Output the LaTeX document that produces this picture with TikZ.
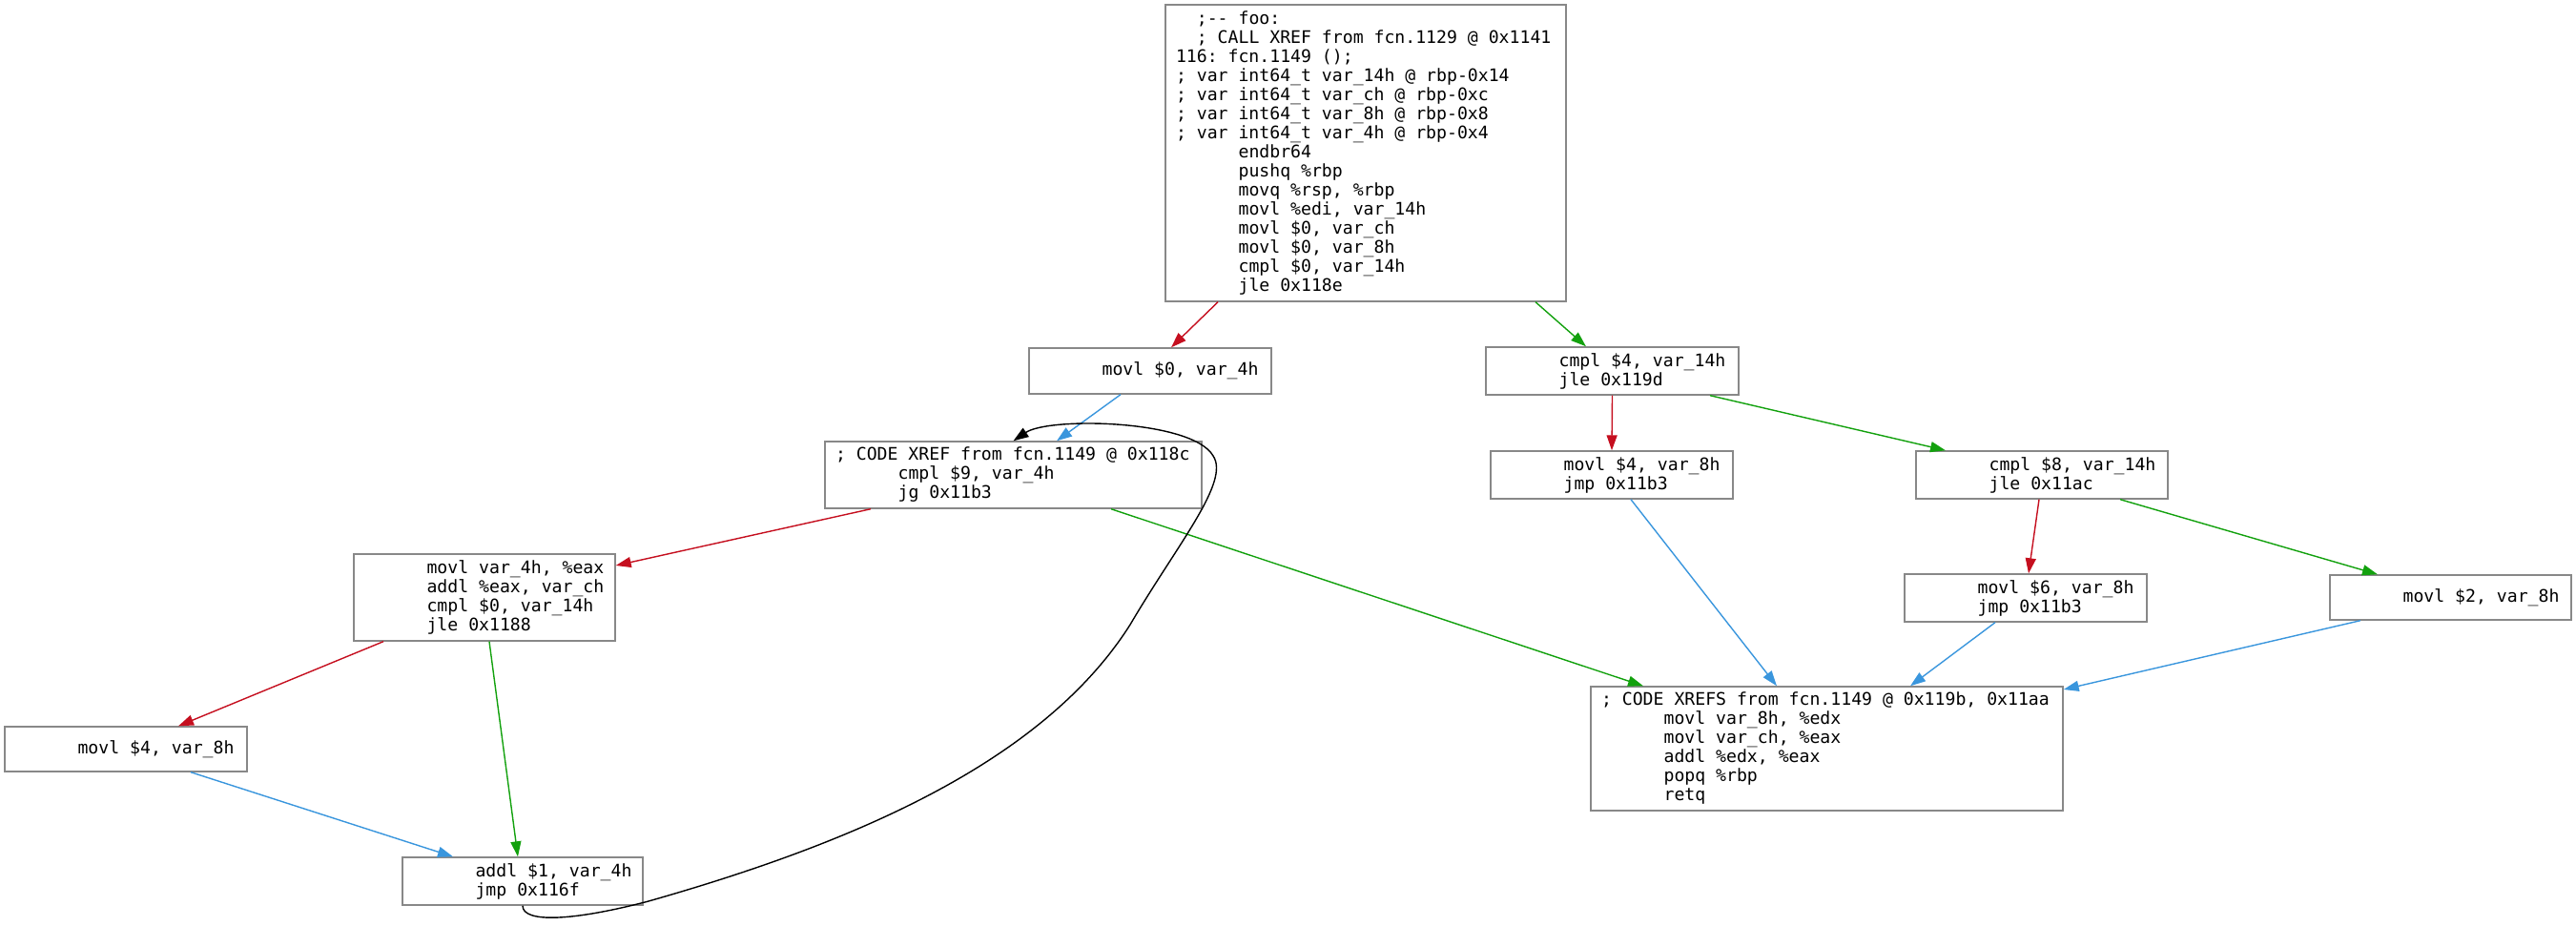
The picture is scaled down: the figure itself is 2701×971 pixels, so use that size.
\documentclass[tikz,border=0pt]{standalone}
\usepackage{fontspec}
\setmonofont{DejaVu Sans Mono}
\usetikzlibrary{arrows.meta}

\definecolor{boxgray}{HTML}{888888}
\definecolor{fred}{HTML}{C50F1F}
\definecolor{tgreen}{HTML}{13A10E}
\definecolor{jblue}{HTML}{3A96DD}

% indentation used by the disassembly listing
\newcommand{\ii}{\phantom{000000}}
\newcommand{\iitwo}{\phantom{00}}
% monospaced listing font
\newcommand{\listfont}{\ttfamily\fontsize{18.15pt}{20pt}\selectfont}
% spaces as wide as one character cell
\newcommand{\fixsp}{\frenchspacing\spaceskip=0.6021em\relax\xspaceskip=0.6021em\relax}

\tikzset{
  blk/.style={draw=boxgray, line width=1.4pt, fill=white, inner sep=0pt,
    align=left, font=\listfont, execute at begin node=\fixsp},
  edge/.style={line width=1.4pt, -{Triangle[length=16pt,width=11pt]}},
  falseedge/.style={edge, draw=fred, fill=fred},
  trueedge/.style={edge, draw=tgreen, fill=tgreen},
  jumpedge/.style={edge, draw=jblue, fill=jblue},
  backedge/.style={edge, draw=black, fill=black},
}

\begin{document}
\begin{tikzpicture}[x=1pt, y=-1pt]
\useasboundingbox (0,0) rectangle (2701,971);

% basic blocks
\node[blk, minimum width=420pt, minimum height=311pt, text width=398pt] (A) at (1432,160.5) {%
\iitwo;-- foo:\\
\iitwo; CALL XREF from fcn.1129 @ 0x1141\\
116: fcn.1149 ();\\
; var int64\_t var\_14h @ rbp-0x14\\
; var int64\_t var\_ch @ rbp-0xc\\
; var int64\_t var\_8h @ rbp-0x8\\
; var int64\_t var\_4h @ rbp-0x4\\
\ii endbr64\\
\ii pushq \%rbp\\
\ii movq \%rsp, \%rbp\\
\ii movl \%edi, var\_14h\\
\ii movl \$0, var\_ch\\
\ii movl \$0, var\_8h\\
\ii cmpl \$0, var\_14h\\
\ii jle 0x118e};

\node[blk, minimum width=254pt, minimum height=48pt, text width=232pt] (B) at (1206,389) {%
\ii movl \$0, var\_4h};

\node[blk, minimum width=395pt, minimum height=70pt, text width=373pt] (C) at (1062.5,498) {%
; CODE XREF from fcn.1149 @ 0x118c\\
\ii cmpl \$9, var\_4h\\
\ii jg 0x11b3};

\node[blk, minimum width=274pt, minimum height=91pt, text width=252pt] (D) at (508,626.5) {%
\ii movl var\_4h, \%eax\\
\ii addl \%eax, var\_ch\\
\ii cmpl \$0, var\_14h\\
\ii jle 0x1188};

\node[blk, minimum width=254pt, minimum height=47pt, text width=232pt] (E) at (132,785.5) {%
\ii movl \$4, var\_8h};

\node[blk, minimum width=252pt, minimum height=50pt, text width=230pt] (F) at (548,924) {%
\ii addl \$1, var\_4h\\
\ii jmp 0x116f};

\node[blk, minimum width=265pt, minimum height=50pt, text width=243pt] (G) at (1690.5,389) {%
\ii cmpl \$4, var\_14h\\
\ii jle 0x119d};

\node[blk, minimum width=254pt, minimum height=50pt, text width=232pt] (H) at (1690,498) {%
\ii movl \$4, var\_8h\\
\ii jmp 0x11b3};

\node[blk, minimum width=264pt, minimum height=50pt, text width=242pt] (I) at (2141,498) {%
\ii cmpl \$8, var\_14h\\
\ii jle 0x11ac};

\node[blk, minimum width=254pt, minimum height=50pt, text width=232pt] (J) at (2124,627) {%
\ii movl \$6, var\_8h\\
\ii jmp 0x11b3};

\node[blk, minimum width=253pt, minimum height=47pt, text width=231pt] (K) at (2569.5,626.5) {%
\ii movl \$2, var\_8h};

\node[blk, minimum width=495pt, minimum height=130pt, text width=473pt] (L) at (1915.5,785) {%
; CODE XREFS from fcn.1149 @ 0x119b, 0x11aa\\
\ii movl var\_8h, \%edx\\
\ii movl var\_ch, \%eax\\
\ii addl \%edx, \%eax\\
\ii popq \%rbp\\
\ii retq};

% conditional branches and jumps
\draw[falseedge] ([xshift=-155pt]A.south) -- ([xshift=22pt]B.north);
\draw[trueedge]  ([xshift=178pt]A.south) -- ([xshift=-27.5pt]G.north);
\draw[jumpedge]  ([xshift=-31pt]B.south) -- ([xshift=45.5pt]C.north);
\draw[falseedge] ([xshift=-149.5pt]C.south) -- ([yshift=33.5pt]D.east);
\draw[trueedge]  ([xshift=102.5pt]C.south) -- ([xshift=-192.5pt]L.north);
\draw[falseedge] ([xshift=-106pt]D.south) -- ([xshift=55pt]E.north);
\draw[trueedge]  ([xshift=5pt]D.south) -- ([xshift=-5pt]F.north);
\draw[jumpedge]  ([xshift=68pt]E.south) -- ([xshift=-73pt]F.north);
\draw[falseedge] (G.south) -- (H.north);
\draw[trueedge]  ([xshift=102.5pt]G.south) -- ([xshift=-101pt]I.north);
\draw[jumpedge]  ([xshift=20pt]H.south) -- ([xshift=-52.5pt]L.north);
\draw[falseedge] ([xshift=-3pt]I.south) -- ([xshift=3pt]J.north);
\draw[trueedge]  ([xshift=82pt]I.south) -- ([xshift=-76.5pt]K.north);
\draw[jumpedge]  ([xshift=-32pt]J.south) -- ([xshift=87.5pt]L.north);
\draw[jumpedge]  ([xshift=-94.5pt]K.south) -- ([yshift=62pt]L.east);

% loop back edge
\draw[backedge, fill=none] (F.south)
  .. controls (548,968) and (600,966) .. (680,945)
  .. controls (880,888) and (1090,805) .. (1185,655)
  .. controls (1235,570) and (1290,505) .. (1272,478)
  .. controls (1250,440) and (1100,437) .. (C.north);
\end{tikzpicture}
\end{document}
